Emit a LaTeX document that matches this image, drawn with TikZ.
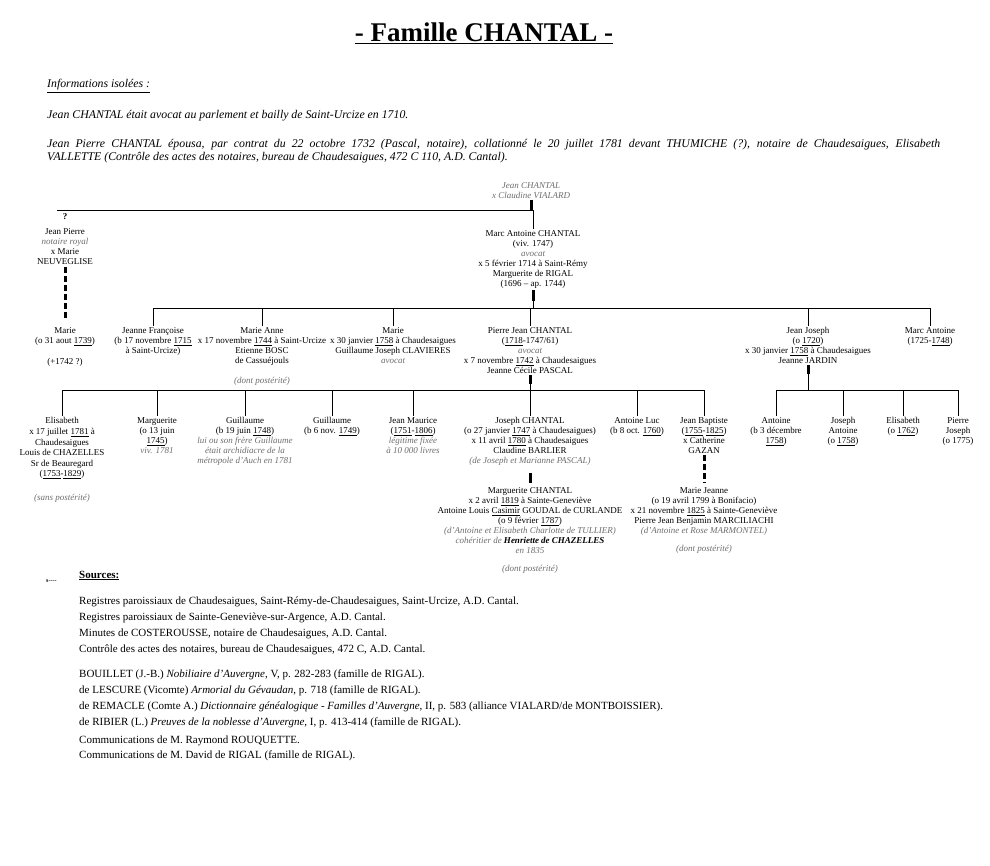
\documentclass[tikz,border=0pt]{standalone}
\usepackage{fontspec}
\setmainfont{Liberation Serif}
\definecolor{gry}{HTML}{6E6E6E}
\newcommand{\gi}[1]{{\color{gry}\itshape #1}}
\newcommand{\yr}[1]{\underline{#1}}
\tikzset{
  pers/.style={font=\fontsize{9}{9.9}\selectfont, align=center, anchor=north, inner xsep=0pt, inner ysep=1.5pt},
  ln/.style={line width=0.9pt},
  thk/.style={line width=3pt},
  dln/.style={line width=3pt, dash pattern=on 6pt off 3pt},
  src/.style={font=\fontsize{11}{13}\selectfont, anchor=base west, inner sep=0pt},
  info/.style={font=\fontsize{11.8}{13}\selectfont\itshape, anchor=base west, inner sep=0pt}
}
\begin{document}
\begin{tikzpicture}[x=1pt,y=-1pt]
\useasboundingbox[fill=white] (0,0) rectangle (990,866);

% ---- header
\node[font=\fontsize{27}{30}\selectfont\bfseries, anchor=base, inner sep=0pt] (title) at (484,42) {\underline{- Famille CHANTAL -}};
\node[info] (infot) at (47,88) {\underline{Informations isolées :}};
\node[info] (info1) at (47,119) {Jean CHANTAL était avocat au parlement et bailly de Saint-Urcize en 1710.};
\node[font=\fontsize{11.8}{13}\selectfont\itshape, anchor=north west, inner sep=0pt, text width=893pt, align=justify] (info2) at (47,139)
  {Jean Pierre CHANTAL épousa, par contrat du 22 octobre 1732 (Pascal, notaire), collationné le 20 juillet 1781 devant THUMICHE (?), notaire de Chaudesaigues, Elisabeth\linebreak VALLETTE (Contrôle des actes des notaires, bureau de Chaudesaigues, 472 C 110, A.D. Cantal).};

% ---- generation 0
\node[pers] (jc) at (531,181) {\gi{Jean CHANTAL}\\\gi{x Claudine VIALARD}};
\node[pers] (q) at (65,212) {\textbf{?}};
\node[pers] (jp) at (65,227) {Jean Pierre\\\gi{notaire royal}\\x Marie\\NEUVEGLISE};
\node[pers] (m1) at (65,326) {Marie\\(o 31 aout \yr{1739})\\[11pt](+1742 ?)};
\node[pers] (ma) at (533,229) {Marc Antoine CHANTAL\\(viv. 1747)\\\gi{avocat}\\x 5 février 1714 à Saint-Rémy\\Marguerite de RIGAL\\(1696 -- ap. 1744)};

\coordinate (b1l) at (57,210);
\coordinate (b1) at (533,210);
\draw[thk] (jc.south) -- (jc.south |- b1);
\draw[ln] (b1l) -- (ma.north |- b1) -- (ma.north);
\draw[dln, shorten <=1pt, shorten >=7pt] (jp.south) -- (m1.north);

% ---- generation 1
\node[pers] (c1) at (153,326) {Jeanne Françoise\\(b 17 novembre \yr{1715}\\à Saint-Urcize)};
\node[pers] (c2) at (262,326) {Marie Anne\\x 17 novembre \yr{1744} à Saint-Urcize\\Etienne BOSC\\de Cassuéjouls};
\node[pers] (c2p) at (262,376) {\gi{(dont postérité)}};
\node[pers] (c3) at (393,326) {Marie\\x 30 janvier \yr{1758} à Chaudesaigues\\Guillaume Joseph CLAVIERES\\\gi{avocat}};
\node[pers] (c4) at (530,326) {Pierre Jean CHANTAL\\(\yr{1718}-1747/61)\\\gi{avocat}\\x 7 novembre \yr{1742} à Chaudesaigues\\Jeanne Cécile PASCAL};
\node[pers] (c5) at (808,326) {Jean Joseph\\(o \yr{1720})\\x 30 janvier \yr{1758} à Chaudesaigues\\Jeanne JARDIN};
\node[pers] (c6) at (930,326) {Marc Antoine\\(1725-\yr{1748})};

\coordinate (b2) at (533,308);
\draw[ln] (ma.south) -- (b2);
\draw[thk] (ma.south) -- ++(0,11);
\draw[ln] (c1.north) -- (c1.north |- b2) -- (c6.north |- b2) -- (c6.north);
\foreach \n in {c2,c3,c4,c5} \draw[ln] (\n.north |- b2) -- (\n.north);

% ---- generation 2
\node[pers, font=\fontsize{9}{10.6}\selectfont] (d1) at (62,416) {Elisabeth\\x 17 juillet \yr{1781} à\\Chaudesaigues\\Louis de CHAZELLES\\Sr de Beauregard\\(\yr{1753}-\yr{1829})};
\node[pers] (d1p) at (62,493) {\gi{(sans postérité)}};
\node[pers] (d2) at (157,416) {Marguerite\\(o 13 juin\\\yr{1745})\\\gi{viv. 1781}};
\node[pers] (d3) at (245,416) {Guillaume\\(b 19 juin \yr{1748})\\\gi{lui ou son frère Guillaume}\\\gi{était archidiacre de la}\\\gi{métropole d'Auch en 1781}};
\node[pers] (d4) at (332,416) {Guillaume\\(b 6 nov. \yr{1749})};
\node[pers] (d5) at (413,416) {Jean Maurice\\(\yr{1751}-\yr{1806})\\\gi{légitime fixée}\\\gi{à 10 000 livres}};
\node[pers] (d6) at (530,416) {Joseph CHANTAL\\(o 27 janvier \yr{1747} à Chaudesaigues)\\x 11 avril \yr{1780} à Chaudesaigues\\Claudine BARLIER\\\gi{(de Joseph et Marianne PASCAL)}};
\node[pers] (d7) at (637,416) {Antoine Luc\\(b 8 oct. \yr{1760})};
\node[pers] (d8) at (704,416) {Jean Baptiste\\(\yr{1755}-\yr{1825})\\x Catherine\\GAZAN};
\node[pers] (d9) at (776,416) {Antoine\\(b 3 décembre\\\yr{1758})};
\node[pers] (d10) at (843,416) {Joseph\\Antoine\\(o \yr{1758})};
\node[pers] (d11) at (903,416) {Elisabeth\\(o \yr{1762})};
\node[pers] (d12) at (958,416) {Pierre\\Joseph\\(o 1775)};

\coordinate (b3) at (530,390);
\draw[ln] (c4.south) -- (c4.south |- b3);
\draw[thk] (c4.south) -- ++(0,9);
\draw[ln] (c5.south) -- (c5.south |- b3);
\draw[thk] (c5.south) -- ++(0,9);
\draw[ln] (d1.north) -- (d1.north |- b3) -- (d8.north |- b3) -- (d8.north);
\foreach \n in {d2,d3,d4,d5,d6,d7} \draw[ln] (\n.north |- b3) -- (\n.north);
\draw[ln] (d9.north) -- (d9.north |- b3) -- (d12.north |- b3) -- (d12.north);
\foreach \n in {d10,d11} \draw[ln] (\n.north |- b3) -- (\n.north);

% ---- generation 3
\node[pers] (e1) at (530,486) {Marguerite CHANTAL\\x 2 avril \yr{1819} à Sainte-Geneviève\\Antoine Louis \yr{Casimir} GOUDAL de CURLANDE\\(o 9 février \yr{1787})\\\gi{(d'Antoine et Elisabeth Charlotte de TULLIER)}\\\gi{cohéritier de} \textbf{\textit{Henriette de CHAZELLES}}\\\gi{en 1835}};
\node[pers] (e1p) at (530,564) {\gi{(dont postérité)}};
\node[pers] (e2) at (704,486) {Marie Jeanne\\(o 19 avril 1799 à Bonifacio)\\x 21 novembre \yr{1825} à Sainte-Geneviève\\Pierre Jean Benjamin MARCILIACHI\\\gi{(d'Antoine et Rose MARMONTEL)}};
\node[pers] (e2p) at (704,544) {\gi{(dont postérité)}};

\draw[thk, shorten <=6pt, shorten >=3pt] (d6.south) -- (e1.north);
\draw[dln, shorten >=3pt] (d8.south) -- (e2.north);

% ---- sources
\node[font=\fontsize{6}{7}\selectfont\bfseries, anchor=base west, inner sep=0pt] (sx) at (46,582) {s-{}-{}-{}-};
\node[font=\fontsize{11}{13}\selectfont\bfseries, anchor=base west, inner sep=0pt] (srct) at (79,578) {\underline{Sources:}};
\node[src] (s1) at (79,604) {Registres paroissiaux de Chaudesaigues, Saint-Rémy-de-Chaudesaigues, Saint-Urcize, A.D. Cantal.};
\node[src] (s2) at (79,620) {Registres paroissiaux de Sainte-Geneviève-sur-Argence, A.D. Cantal.};
\node[src] (s3) at (79,636) {Minutes de COSTEROUSSE, notaire de Chaudesaigues, A.D. Cantal.};
\node[src] (s4) at (79,652) {Contrôle des actes des notaires, bureau de Chaudesaigues, 472 C, A.D. Cantal.};
\node[src] (s5) at (79,677) {BOUILLET (J.-B.) \textit{Nobiliaire d'Auvergne}, V, p. 282-283 (famille de RIGAL).};
\node[src] (s6) at (79,693) {de LESCURE (Vicomte) \textit{Armorial du Gévaudan}, p. 718 (famille de RIGAL).};
\node[src] (s7) at (79,709) {de REMACLE (Comte A.) \textit{Dictionnaire généalogique - Familles d'Auvergne}, II, p. 583 (alliance VIALARD/de MONTBOISSIER).};
\node[src] (s8) at (79,725) {de RIBIER (L.) \textit{Preuves de la noblesse d'Auvergne}, I, p. 413-414 (famille de RIGAL).};
\node[src] (s9) at (79,743) {Communications de M. Raymond ROUQUETTE.};
\node[src] (s10) at (79,758) {Communications de M. David de RIGAL (famille de RIGAL).};
\end{tikzpicture}
\end{document}
